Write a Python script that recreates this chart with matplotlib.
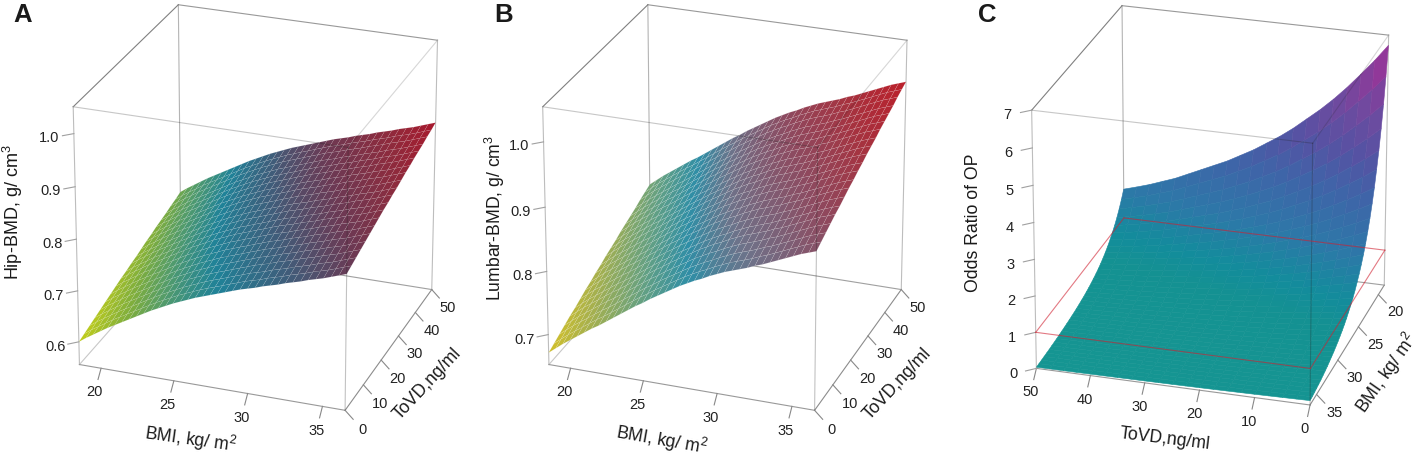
import numpy as np
import matplotlib
matplotlib.use('Agg')
import matplotlib.pyplot as plt
from matplotlib.colors import LinearSegmentedColormap, Normalize
from mpl_toolkits.mplot3d import proj3d

plt.rcParams['font.family'] = ['Liberation Sans', 'DejaVu Sans']
plt.rcParams['mathtext.default'] = 'regular'

W, H = 1417, 458

# values
bmi = [18.5, 19, 19.5, 20, 20.5, 21, 21.5, 22, 22.5, 23, 23.5, 24, 24.5, 25, 25.5, 26, 26.5, 27, 27.5,
       28, 28.5, 29, 29.5, 30, 30.5, 31, 31.5, 32, 32.5, 33, 33.5, 34, 34.5, 35, 35.5, 36, 36.5]
tovd = [0, 2.5, 5, 7.5, 10, 12.5, 15, 17.5, 20, 22.5, 25, 27.5, 30, 32.5, 35, 37.5, 40, 42.5, 45, 47.5, 50]

hip_at_tovd0 = [.600, .610, .619, .628, .637, .645, .653, .661, .669, .677, .685, .692, .699, .706, .712, .718,
                .724, .729, .734, .739, .744, .749, .754, .758, .762, .767, .771, .775, .780, .784, .788, .793,
                .797, .801, .806, .811, .816]
hip_tovd_gain = [0, .004, .008, .012, .016, .020, .024, .028, .032, .035, .039, .042, .046, .050, .053, .057,
                 .060, .063, .067, .070, .074]

lumbar_at_tovd0 = [.671, .680, .689, .697, .705, .713, .721, .728, .736, .744, .752, .760, .768, .775, .783, .790,
                   .797, .804, .811, .817, .823, .828, .834, .839, .844, .848, .852, .856, .861, .865, .870, .875,
                   .880, .885, .890, .894, .898]
lumbar_tovd_gain = [0, .005, .010, .015, .020, .024, .029, .034, .038, .043, .047, .052, .056, .060, .065, .069,
                    .073, .077, .082, .086, .090]

or_at_tovd0 = [6.72, 5.95, 5.27, 4.67, 4.15, 3.70, 3.28, 2.92, 2.60, 2.32, 2.07, 1.85, 1.66, 1.49, 1.34, 1.20,
               1.08, .97, .88, .79, .71, .64, .58, .52, .47, .42, .38, .34, .30, .27, .24, .21, .19, .17, .15,
               .13, .12]
or_tovd_ratio = [1, .932, .87, .81, .755, .705, .66, .615, .575, .54, .505, .475, .445, .42, .395, .37, .345,
                 .325, .305, .288, .272]

bmi_ticks = [20, 25, 30, 35]
tovd_ticks = [0, 10, 20, 30, 40, 50]
hip_ticks = [.6, .7, .8, .9, 1.0]
lumbar_ticks = [.7, .8, .9, 1.0]
or_ticks = [0, 1, 2, 3, 4, 5, 6, 7]

# colours along the height of each surface
hip_colors = [(.60, '#c4cf1a'), (.66, '#7fae3c'), (.70, '#4f9a6e'), (.74, '#1f8298'), (.78, '#3d5f7c'),
              (.82, '#6a3a55'), (.86, '#8f2a3c'), (.89, '#a8182c')]
lumbar_colors = [(.671, '#d2c02a'), (.72, '#a5b04e'), (.78, '#5f9f86'), (.82, '#2f8ea6'), (.86, '#6e7289'),
                 (.91, '#8d4a60'), (.95, '#a6323f'), (.988, '#bb1f2a')]
or_colors = [(0, '#159592'), (.6, '#149192'), (1, '#138c9c'), (1.8, '#2d78a8'), (3, '#3f64a8'), (4, '#5652a3'),
             (5, '#6f4a9f'), (6, '#8c3a9a'), (6.72, '#a52f95')]

# elev, azim, focal length, y and z box aspect, axes left, bottom, size in pixels
view_ab = (25.064, -69.990, 1.397, 1.002, 1.002, 17.925, 14.993, 470.042)
view_c = (24.078, -73.363, 1.715, 1.018, .987, 969.990, 13.668, 474.756)


def make_cmap(stops):
    lo, hi = stops[0][0], stops[-1][0]
    return LinearSegmentedColormap.from_list('z', [((v - lo) / (hi - lo), c) for v, c in stops]), Normalize(lo, hi)


def draw_panel(view, dx, xlim, ylim, zlim, X, Y, Z, stops, xticks, yticks, zticks, zfmt, mesh):
    elev, azim, focal, by, bz, left, bottom, size = view
    ax = fig.add_axes([(left + dx) / W, bottom / H, size / W, size / H], projection='3d', computed_zorder=False)
    ax.set_xlim(*xlim, view_margin=0)
    ax.set_ylim(*ylim, view_margin=0)
    ax.set_zlim(*zlim, view_margin=0)
    ax.view_init(elev, azim)
    ax.set_proj_type('persp', focal_length=focal)
    ax.set_box_aspect((1, by, bz))
    ax.set_axis_off()
    ax.patch.set_alpha(0)
    M = ax.get_proj()

    def pt(u, v, w):
        return (xlim[0] + u * (xlim[1] - xlim[0]), ylim[0] + v * (ylim[1] - ylim[0]),
                zlim[0] + w * (zlim[1] - zlim[0]))

    def seg(a, b, color, z, lw=.8, alpha=1):
        p, q = pt(*a), pt(*b)
        ax.plot([p[0], q[0]], [p[1], q[1]], [p[2], q[2]], color=color, lw=lw, alpha=alpha, zorder=z, clip_on=False)

    def tick_text(a, s):
        vx, vy, _ = proj3d.proj_transform(*pt(*a), M)
        ax.text2D(vx, vy, s, transform=ax.transData, ha='center', va='center', fontsize=10.5, color='#222222',
                  zorder=5)

    # behind the surface
    seg((0, 0, 0), (0, 1, 0), '#c8c8c8', 1)
    seg((0, 1, 0), (1, 1, 0), '#a0a0a0', 1)
    seg((0, 1, 0), (0, 1, 1), '#b4b4b4', 1)
    seg((0, 1, 1), (1, 1, 1), '#999999', 1)
    seg((0, 0, 1), (0, 1, 1), '#808080', 1)
    seg((1, 1, 0), (1, 1, 1), '#bdbdbd', 1)
    seg((0, 0, 0), (0, 0, 1), '#bdbdbd', 1)

    cmap, norm = make_cmap(stops)
    surf = ax.plot_surface(X, Y, Z, cmap=cmap, norm=norm, rcount=Z.shape[0], ccount=Z.shape[1], shade=False,
                           linewidth=.3 if mesh else .4, zorder=2)
    surf.set_edgecolor((1, 1, 1, mesh) if mesh else 'face')

    # in front of the surface, see-through so they darken it
    seg((0, 0, 0), (1, 0, 0), '#999999', 3)
    seg((1, 0, 0), (1, 1, 0), '#8c8c8c', 3)
    seg((1, 0, 0), (1, 0, 1), '#202020', 3, alpha=.27)
    seg((0, 0, 1), (1, 0, 1), '#202020', 3, alpha=.25)
    seg((1, 0, 1), (1, 1, 1), '#202020', 3, alpha=.18)

    tick = .03
    lab = .064
    for v in xticks:
        u = (v - xlim[0]) / (xlim[1] - xlim[0])
        seg((u, 0, 0), (u, -tick, -tick), '#888888', 3)
        tick_text((u, -lab, -lab), str(v))
    for v in yticks:
        u = (v - ylim[0]) / (ylim[1] - ylim[0])
        seg((1, u, 0), (1 + tick, u, -tick), '#888888', 3)
        tick_text((1 + lab, u, -lab), str(v))
    for v in zticks:
        u = (v - zlim[0]) / (zlim[1] - zlim[0])
        seg((0, 0, u), (-tick, -tick, u), '#a0a0a0', 3)
        tick_text((-lab, -lab, u), zfmt % v)
    return seg


def label(x, y, s, rot, size=12.7, weight='normal'):
    fig.text(x / W, 1 - y / H, s, rotation=rot, ha='center', va='center', fontsize=size, color='#1a1a1a',
             fontweight=weight, rotation_mode='anchor')


fig = plt.figure(figsize=(W / 100, H / 100), dpi=100)

X, Y = np.meshgrid(bmi, tovd, indexing='ij')
Z_hip = np.add.outer(hip_at_tovd0, hip_tovd_gain)
draw_panel(view_ab, 0, (18.5, 36.5), (0, 50), (.555, 1.05), X, Y, Z_hip, hip_colors, bmi_ticks, tovd_ticks,
           hip_ticks, '%.1f', .16)

Z_lumbar = np.add.outer(lumbar_at_tovd0, lumbar_tovd_gain)
draw_panel(view_ab, 469.5, (18.5, 36.5), (0, 50), (.652, 1.053), X, Y, Z_lumbar, lumbar_colors, bmi_ticks, tovd_ticks,
           lumbar_ticks, '%.1f', .22)

Xc, Yc = np.meshgrid(tovd, bmi, indexing='xy')
Z_or = np.outer(or_at_tovd0, or_tovd_ratio)
seg = draw_panel(view_c, 0, (50, 0), (36.5, 18.5), (0, 7), Xc, Yc, Z_or, or_colors, tovd_ticks, bmi_ticks,
                 or_ticks, '%d', 0)
# reference plane at odds ratio 1
w1 = 1 / 7
for a, b in [((0, 0, w1), (1, 0, w1)), ((0, 1, w1), (1, 1, w1)), ((0, 0, w1), (0, 1, w1)), ((1, 0, w1), (1, 1, w1))]:
    seg(a, b, '#d02030', 4, lw=.8, alpha=.6)

label(13, 212, 'Hip-BMD, g/ cm$^3$', 90, 13)
label(190.7, 440, 'BMI, kg/ m$^2$', -8)
label(427, 384, 'ToVD,ng/ml', 47)
label(495, 218, 'Lumbar-BMD, g/ cm$^3$', 90)
label(661.7, 440.5, 'BMI, kg/ m$^2$', -10)
label(897, 384, 'ToVD,ng/ml', 47)
label(973, 223, 'Odds Ratio of OP', 90)
label(1165, 439, 'ToVD,ng/ml', -7)
label(1387, 373, 'BMI, kg/ m$^2$', 55)
label(23, 15.5, 'A', 0, 18.5, 'bold')
label(504, 15.5, 'B', 0, 18.5, 'bold')
label(987, 15.5, 'C', 0, 18.5, 'bold')

fig.savefig('out.png', dpi=100)
